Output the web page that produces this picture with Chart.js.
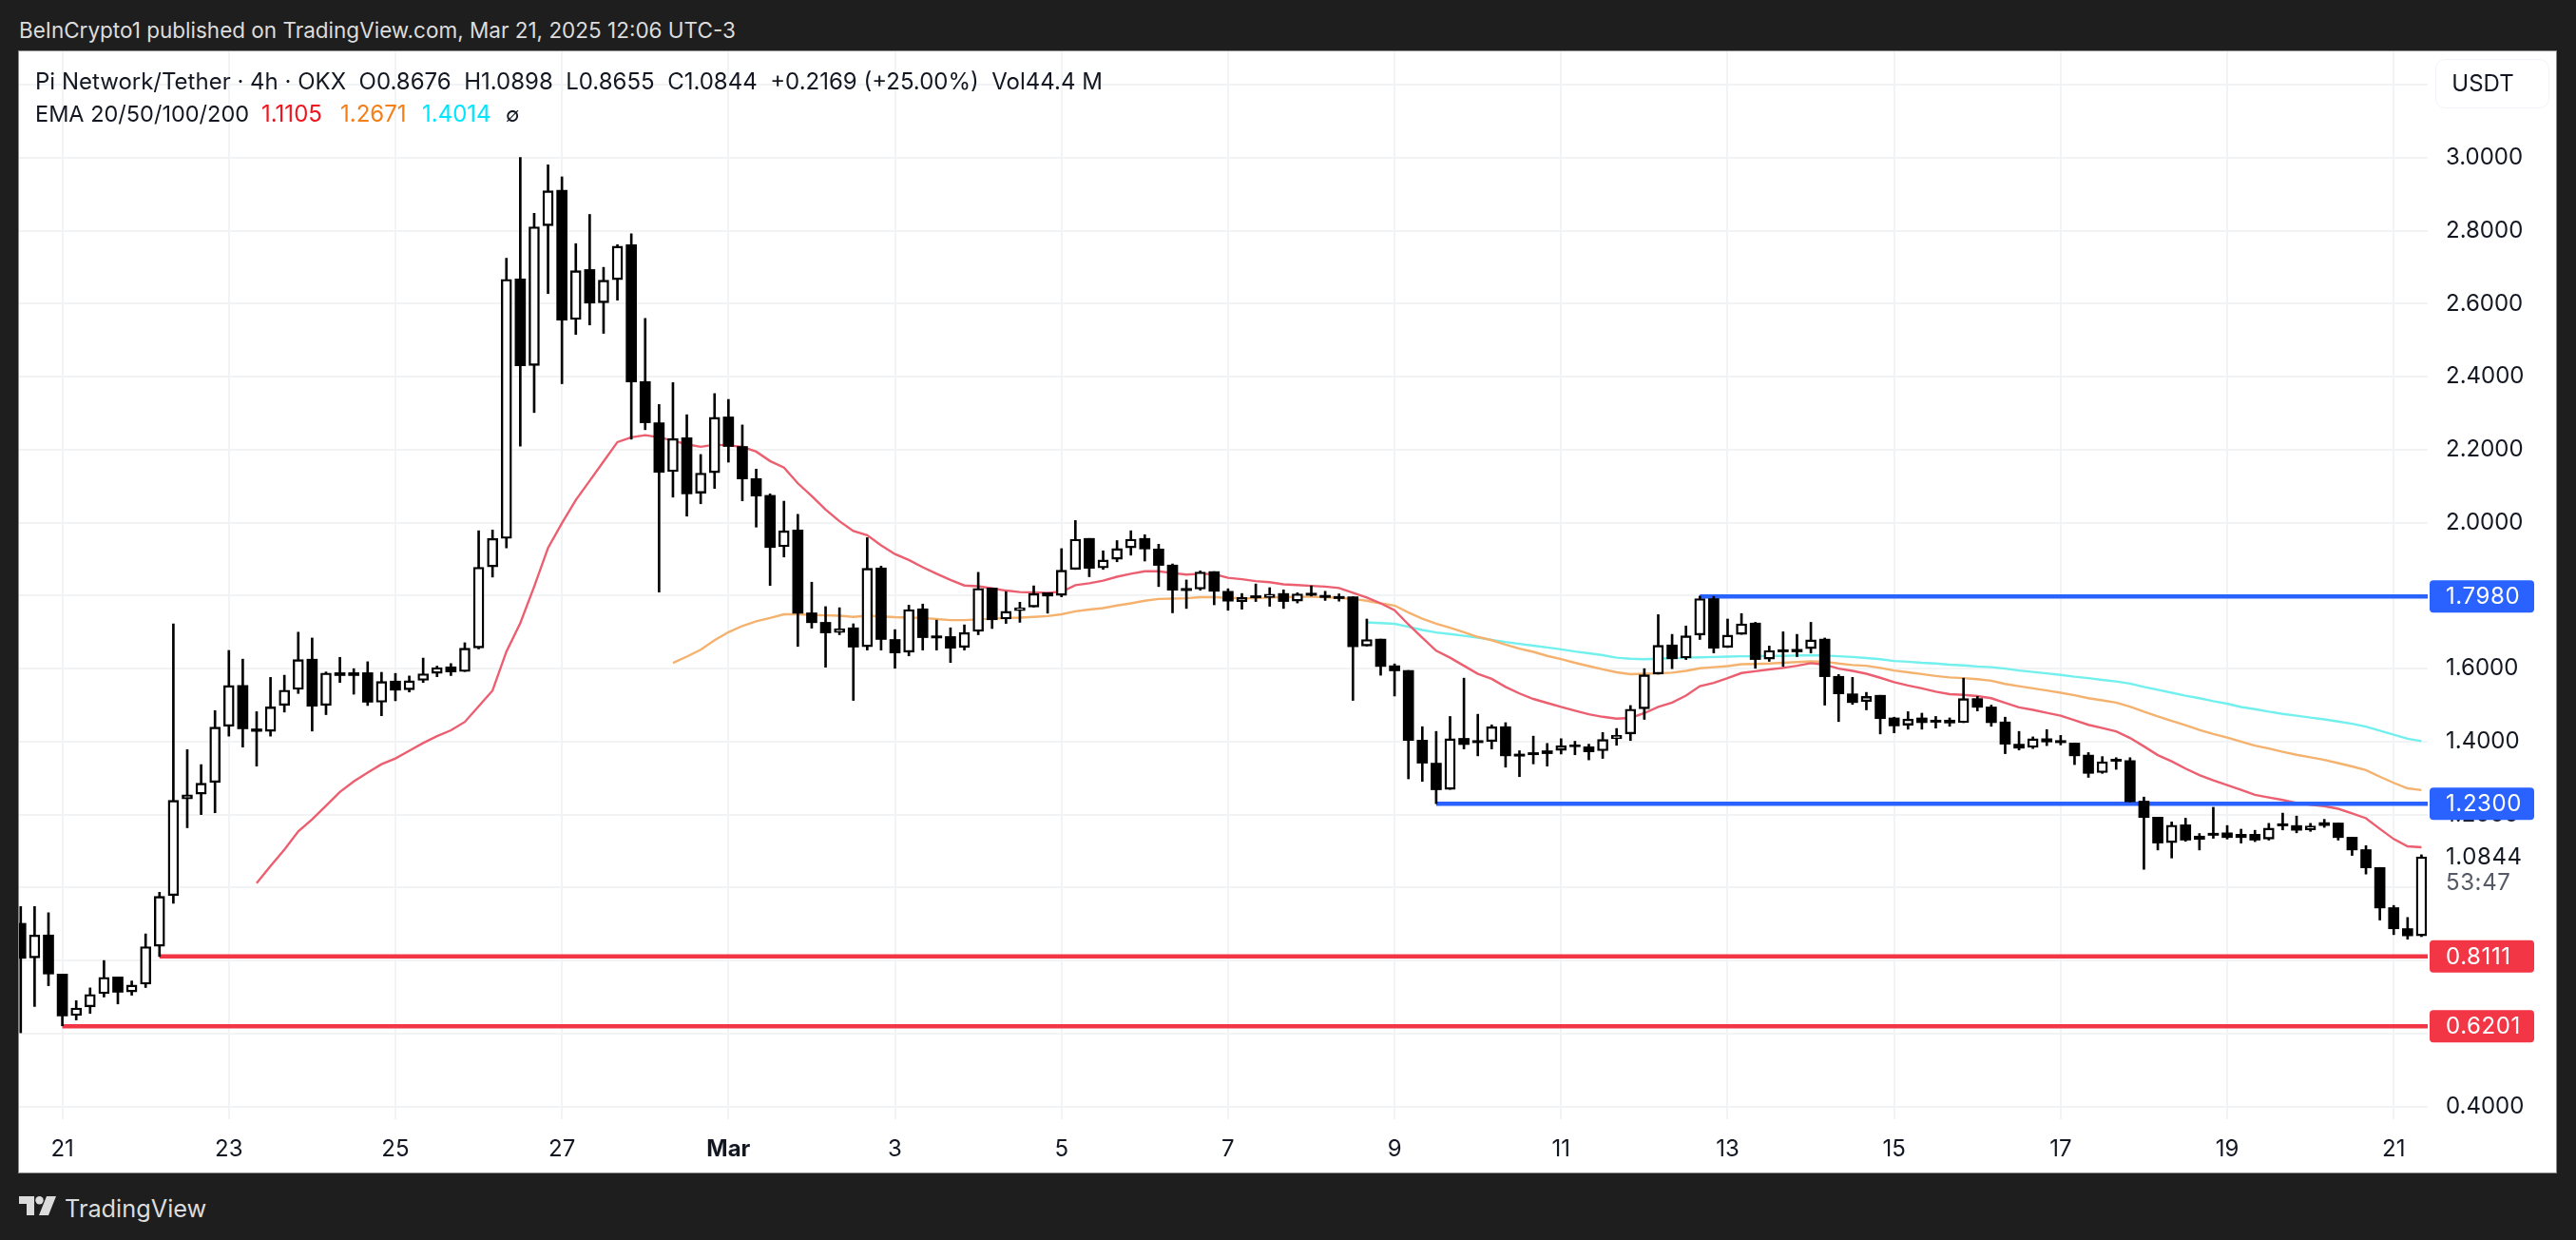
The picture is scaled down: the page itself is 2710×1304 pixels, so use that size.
<!DOCTYPE html>
<html>
<head>
<meta charset="utf-8">
<title>Pi Network/Tether</title>
<script src="https://cdn.jsdelivr.net/npm/chart.js@4"></script>
<style>
    html, body { margin: 0; padding: 0; width: 2710px; height: 1304px; background: #1e1e1e; overflow: hidden; font-family: Inter, sans-serif; }
    .abs { position: absolute; white-space: pre; line-height: 1; }
    #frame { position: absolute; left: 20px; top: 54px; width: 2669px; height: 1179px; background: #fff; box-shadow: 0 0 0 1px #8a8a8a; }
    #chart { display: block; }
    #published { left: 20px; top: 21px; font-size: 22.5px; color: #dcdcdc; }
    #title { left: 37px; top: 74px; font-size: 24px; color: #131722; }
    #emaName { left: 37px; top: 108px; font-size: 23.5px; color: #131722; }
    #usdt { left: 2562px; top: 62px; width: 120px; height: 52px; box-sizing: border-box; padding-right: 20px; text-align: center; border: 1px solid #f0f3fa; border-radius: 10px; font-size: 24px; color: #131722; line-height: 50px; }
    #brand { left: 68px; top: 1258px; font-size: 25.3px; color: #dcdcdc; }
    #logo { position: absolute; left: 20px; top: 1258px; }
</style>
</head>
<body>
<div id="frame"><canvas id="chart" width="2669" height="1179"></canvas></div>
<div class="abs" id="published">BeInCrypto1 published on TradingView.com, Mar 21, 2025 12:06 UTC-3</div>
<div class="abs" id="title">Pi Network/Tether · 4h · OKX  O0.8676  H1.0898  L0.8655  C1.0844  +0.2169 (+25.00%)  Vol44.4 M</div>
<div class="abs" id="emaName">EMA 20/50/100/200</div>
<div class="abs" style="left:275px;top:108px;font-size:24px;color:#f0141e">1.1105</div>
<div class="abs" style="left:358px;top:108px;font-size:24px;color:#f57f17">1.2671</div>
<div class="abs" style="left:444px;top:108px;font-size:24px;color:#00e5ff">1.4014</div>
<div class="abs" style="left:532px;top:110px;font-size:21px;color:#131722">∅</div>
<div class="abs" id="usdt">USDT</div>
<svg id="logo" width="39" height="20" viewBox="0 0 39 20"><path fill="#dcdcdc" d="M0 0h16v20H8V8H0z"/><path fill="#dcdcdc" d="M29 0h10l-8 20H21z"/><circle fill="#dcdcdc" cx="21.5" cy="4.2" r="4.2"/></svg>
<div class="abs" id="brand">TradingView</div>

<script>
    // 4h candles, first candle sits at index -3, index 0 is Feb 21 00:00
    const firstIndex = -3;

    const opens = [
        .902, .807, .870, .763, .649, .673, .709, .755, .714, .735,
        .839, .978, 1.243, 1.256, 1.288, 1.442, 1.554, 1.435, 1.428, 1.499,
        1.543, 1.626, 1.499, 1.589, 1.589, 1.589, 1.508, 1.566, 1.542, 1.568,
        1.587, 1.605, 1.592, 1.657, 1.879, 1.957, 2.668, 2.431, 2.814, 2.911,
        2.557, 2.694, 2.603, 2.666, 2.762, 2.387, 2.274, 2.140, 2.233, 2.081,
        2.137, 2.290, 2.209, 2.121, 2.075, 1.934, 1.980, 1.753, 1.727, 1.699,
        1.712, 1.660, 1.876, 1.680, 1.645, 1.764, 1.690, 1.688, 1.658, 1.702,
        1.821, 1.736, 1.759, 1.769, 1.808, 1.801, 1.872, 1.957, 1.876, 1.900,
        1.931, 1.957, 1.928, 1.884, 1.820, 1.818, 1.866, 1.812, 1.784, 1.800,
        1.795, 1.806, 1.785, 1.807, 1.801, 1.798, 1.797, 1.662, 1.681, 1.608,
        1.595, 1.404, 1.341, 1.269, 1.409, 1.403, 1.400, 1.441, 1.366, 1.370,
        1.375, 1.376, 1.391, 1.386, 1.375, 1.408, 1.421, 1.490, 1.585, 1.665,
        1.629, 1.692, 1.792, 1.658, 1.694, 1.725, 1.626, 1.652, 1.653, 1.655,
        1.681, 1.579, 1.531, 1.510, 1.527, 1.465, 1.445, 1.465, 1.459, 1.459,
        1.452, 1.518, 1.495, 1.454, 1.393, 1.384, 1.408, 1.403, 1.396, 1.363,
        1.315, 1.352, 1.348, 1.237, 1.193, 1.123, 1.172, 1.141, 1.149, 1.150,
        1.146, 1.146, 1.133, 1.175, 1.170, 1.158, 1.178, 1.177, 1.138, 1.104,
        1.055, .945, .8875, .8676
    ];
    const highs = [
        .948, .948, .931, .763, .690, .725, .800, .755, .744, .873,
        .987, 1.723, 1.378, 1.337, 1.485, 1.650, 1.626, 1.482, 1.576, 1.582,
        1.700, 1.684, 1.591, 1.631, 1.600, 1.619, 1.590, 1.587, 1.580, 1.629,
        1.607, 1.614, 1.671, 1.978, 1.980, 2.725, 3.001, 2.848, 2.981, 2.948,
        2.765, 2.845, 2.700, 2.762, 2.792, 2.560, 2.324, 2.384, 2.296, 2.187,
        2.354, 2.338, 2.268, 2.147, 2.079, 2.059, 2.023, 1.837, 1.770, 1.767,
        1.723, 1.959, 1.881, 1.707, 1.774, 1.777, 1.733, 1.712, 1.720, 1.864,
        1.821, 1.811, 1.782, 1.827, 1.808, 1.929, 2.006, 1.957, 1.923, 1.951,
        1.978, 1.967, 1.941, 1.887, 1.843, 1.868, 1.866, 1.819, 1.806, 1.832,
        1.822, 1.816, 1.808, 1.827, 1.812, 1.805, 1.797, 1.736, 1.681, 1.613,
        1.595, 1.441, 1.428, 1.469, 1.574, 1.475, 1.446, 1.452, 1.375, 1.415,
        1.395, 1.408, 1.401, 1.393, 1.425, 1.436, 1.499, 1.600, 1.748, 1.694,
        1.717, 1.799, 1.798, 1.736, 1.751, 1.727, 1.662, 1.701, 1.694, 1.727,
        1.684, 1.584, 1.576, 1.535, 1.527, 1.467, 1.482, 1.478, 1.469, 1.465,
        1.574, 1.524, 1.500, 1.467, 1.428, 1.413, 1.433, 1.417, 1.396, 1.370,
        1.359, 1.356, 1.356, 1.248, 1.193, 1.180, 1.190, 1.148, 1.220, 1.170,
        1.160, 1.157, 1.176, 1.204, 1.196, 1.176, 1.187, 1.177, 1.138, 1.115,
        1.055, .951, .918, 1.0898
    ];
    const lows = [
        .602, .674, .731, .621, .637, .655, .700, .681, .705, .726,
        .811, .957, 1.164, 1.200, 1.205, 1.415, 1.385, 1.333, 1.415, 1.481,
        1.532, 1.429, 1.474, 1.562, 1.530, 1.499, 1.471, 1.512, 1.536, 1.562,
        1.578, 1.581, 1.592, 1.654, 1.851, 1.931, 2.210, 2.302, 2.628, 2.381,
        2.516, 2.542, 2.519, 2.610, 2.229, 2.255, 1.810, 2.070, 2.018, 2.052,
        2.094, 2.166, 2.060, 1.988, 1.828, 1.906, 1.661, 1.711, 1.604, 1.693,
        1.513, 1.651, 1.651, 1.601, 1.635, 1.651, 1.651, 1.617, 1.651, 1.693,
        1.710, 1.724, 1.727, 1.769, 1.752, 1.797, 1.872, 1.852, 1.872, 1.893,
        1.911, 1.895, 1.825, 1.753, 1.765, 1.815, 1.775, 1.760, 1.763, 1.784,
        1.771, 1.765, 1.780, 1.799, 1.787, 1.785, 1.513, 1.662, 1.582, 1.525,
        1.298, 1.291, 1.230, 1.269, 1.380, 1.361, 1.380, 1.330, 1.304, 1.339,
        1.333, 1.366, 1.364, 1.350, 1.354, 1.390, 1.403, 1.461, 1.585, 1.600,
        1.625, 1.680, 1.643, 1.658, 1.694, 1.601, 1.620, 1.606, 1.633, 1.643,
        1.500, 1.455, 1.502, 1.487, 1.421, 1.424, 1.434, 1.434, 1.437, 1.442,
        1.452, 1.484, 1.442, 1.367, 1.377, 1.381, 1.389, 1.391, 1.337, 1.302,
        1.313, 1.324, 1.235, 1.050, 1.103, 1.081, 1.127, 1.103, 1.135, 1.133,
        1.122, 1.126, 1.130, 1.158, 1.150, 1.154, 1.165, 1.130, 1.088, 1.037,
        .911, .871, .8585, .8655
    ];
    const closes = [
        .806, .870, .763, .648, .670, .707, .754, .713, .733, .838,
        .976, 1.239, 1.254, 1.286, 1.440, 1.554, 1.435, 1.428, 1.495, 1.541,
        1.625, 1.497, 1.588, 1.581, 1.581, 1.508, 1.565, 1.541, 1.567, 1.586,
        1.603, 1.591, 1.656, 1.878, 1.957, 2.667, 2.430, 2.811, 2.910, 2.555,
        2.691, 2.602, 2.665, 2.758, 2.386, 2.274, 2.138, 2.231, 2.079, 2.136,
        2.289, 2.209, 2.120, 2.073, 1.932, 1.978, 1.752, 1.726, 1.698, 1.710,
        1.659, 1.875, 1.680, 1.643, 1.762, 1.685, 1.684, 1.656, 1.699, 1.820,
        1.734, 1.757, 1.767, 1.806, 1.799, 1.870, 1.955, 1.875, 1.898, 1.929,
        1.955, 1.928, 1.883, 1.815, 1.814, 1.865, 1.812, 1.785, 1.796, 1.794,
        1.804, 1.784, 1.805, 1.801, 1.795, 1.792, 1.660, 1.680, 1.606, 1.594,
        1.403, 1.341, 1.268, 1.408, 1.392, 1.397, 1.441, 1.361, 1.360, 1.364,
        1.367, 1.389, 1.386, 1.372, 1.406, 1.417, 1.489, 1.583, 1.664, 1.627,
        1.690, 1.792, 1.656, 1.692, 1.723, 1.625, 1.650, 1.646, 1.646, 1.679,
        1.578, 1.531, 1.507, 1.524, 1.463, 1.443, 1.462, 1.452, 1.453, 1.451,
        1.518, 1.494, 1.452, 1.393, 1.382, 1.408, 1.399, 1.397, 1.361, 1.313,
        1.345, 1.346, 1.235, 1.192, 1.122, 1.171, 1.130, 1.132, 1.143, 1.137,
        1.137, 1.130, 1.163, 1.169, 1.157, 1.169, 1.170, 1.137, 1.103, 1.054,
        .944, .887, .8676, 1.0844
    ];

    const ema20Start = 14;
    const ema20 = [
        1.012, 1.059, 1.104, 1.154, 1.187, 1.224, 1.262, 1.291, 1.315, 1.338,
        1.354, 1.375, 1.396, 1.415, 1.431, 1.454, 1.497, 1.540, 1.647, 1.725,
        1.825, 1.931, 1.999, 2.062, 2.115, 2.168, 2.221, 2.234, 2.240, 2.234,
        2.225, 2.215, 2.208, 2.214, 2.212, 2.208, 2.195, 2.169, 2.151, 2.108,
        2.073, 2.036, 2.004, 1.977, 1.966, 1.938, 1.914, 1.898, 1.878, 1.860,
        1.843, 1.828, 1.826, 1.820, 1.814, 1.810, 1.809, 1.808, 1.811, 1.829,
        1.834, 1.841, 1.852, 1.860, 1.867, 1.867, 1.862, 1.858, 1.860, 1.859,
        1.849, 1.845, 1.840, 1.837, 1.831, 1.829, 1.827, 1.825, 1.821, 1.808,
        1.795, 1.779, 1.760, 1.721, 1.685, 1.649, 1.630, 1.608, 1.586, 1.572,
        1.550, 1.532, 1.517, 1.506, 1.495, 1.485, 1.475, 1.468, 1.463, 1.465,
        1.478, 1.495, 1.507, 1.526, 1.552, 1.561, 1.574, 1.588, 1.593, 1.598,
        1.602, 1.608, 1.615, 1.611, 1.600, 1.594, 1.586, 1.575, 1.563, 1.554,
        1.546, 1.537, 1.530, 1.528, 1.525, 1.519, 1.506, 1.494, 1.487, 1.479,
        1.471, 1.459, 1.446, 1.437, 1.428, 1.410, 1.387, 1.363, 1.346, 1.326,
        1.308, 1.294, 1.281, 1.268, 1.254, 1.247, 1.240, 1.232, 1.227, 1.223,
        1.216, 1.203, 1.190, 1.161, 1.133, 1.113, 1.1105
    ];
    const ema50Start = 44;
    const ema50 = [
        1.616, 1.633, 1.652, 1.678, 1.700, 1.717, 1.730, 1.739, 1.749, 1.749,
        1.747, 1.746, 1.745, 1.742, 1.745, 1.743, 1.741, 1.740, 1.739, 1.736,
        1.733, 1.733, 1.735, 1.737, 1.739, 1.740, 1.742, 1.744, 1.749, 1.757,
        1.762, 1.766, 1.773, 1.779, 1.786, 1.791, 1.792, 1.793, 1.796, 1.796,
        1.794, 1.793, 1.793, 1.795, 1.796, 1.797, 1.797, 1.796, 1.794, 1.791,
        1.786, 1.779, 1.773, 1.754, 1.737, 1.723, 1.712, 1.700, 1.687, 1.678,
        1.666, 1.655, 1.646, 1.635, 1.626, 1.616, 1.607, 1.598, 1.590, 1.585,
        1.586, 1.587, 1.589, 1.594, 1.601, 1.604, 1.607, 1.612, 1.613, 1.614,
        1.616, 1.618, 1.620, 1.619, 1.614, 1.610, 1.608, 1.602, 1.595, 1.590,
        1.585, 1.580, 1.576, 1.574, 1.571, 1.567, 1.558, 1.552, 1.546, 1.540,
        1.534, 1.527, 1.519, 1.513, 1.507, 1.496, 1.482, 1.469, 1.457, 1.445,
        1.432, 1.421, 1.411, 1.400, 1.389, 1.381, 1.372, 1.364, 1.357, 1.350,
        1.341, 1.332, 1.322, 1.304, 1.287, 1.272, 1.2671
    ];
    const ema100Start = 94;
    const ema100 = [
        1.727, 1.725, 1.723, 1.715, 1.706, 1.699, 1.695, 1.690, 1.685, 1.679,
        1.673, 1.668, 1.663, 1.658, 1.653, 1.647, 1.642, 1.637, 1.630, 1.627,
        1.626, 1.627, 1.629, 1.630, 1.631, 1.632, 1.633, 1.634, 1.634, 1.635,
        1.635, 1.636, 1.637, 1.636, 1.634, 1.632, 1.629, 1.626, 1.621, 1.619,
        1.616, 1.614, 1.611, 1.609, 1.606, 1.604, 1.600, 1.595, 1.591, 1.587,
        1.583, 1.578, 1.574, 1.569, 1.565, 1.559, 1.550, 1.542, 1.534, 1.526,
        1.519, 1.511, 1.504, 1.495, 1.489, 1.482, 1.476, 1.471, 1.466, 1.461,
        1.455, 1.449, 1.441, 1.430, 1.419, 1.408, 1.4014
    ];

    // drawn support and resistance lines
    const levelValues = [1.798, 1.23, 0.8111, 0.6201];
    const levelStarts = [118, 99, 7, 0];
    const levelTexts = ["1.7980", "1.2300", "0.8111", "0.6201"];
    const levelColors = ["#2962ff", "#2962ff", "#f23645", "#f23645"];

    const yTicks = [3.2, 3.0, 2.8, 2.6, 2.4, 2.2, 2.0, 1.8, 1.6, 1.4, 1.2, 1.0, 0.8, 0.6, 0.4];
    const yTickLabels = ["", "3.0000", "2.8000", "2.6000", "2.4000", "2.2000", "2.0000", "1.8000", "1.6000", "1.4000", "1.2000", "", "", "", "0.4000"];
    const xTicks = [0, 12, 24, 36, 48, 60, 72, 84, 96, 108, 120, 132, 144, 156, 168];
    const xTickLabels = ["21", "23", "25", "27", "Mar", "3", "5", "7", "9", "11", "13", "15", "17", "19", "21"];

    const lastPrice = 1.0844;
    const lastPriceText = "1.0844";
    const countdownText = "53:47";

    const xMin = -3.123, xMax = 170.45;
    const yMin = 0.365, yMax = 3.292;

    const candleX = i => i + firstIndex;
    const isUp = i => closes[i] >= opens[i];

    const wickData = highs.map((h, i) => ({ x: candleX(i), y: [lows[i], h] }));
    const bodyData = opens.map((o, i) => ({ x: candleX(i), y: [Math.min(o, closes[i]), Math.max(o, closes[i])] }));

    function emaDataset(values, start, color) {
        return {
            type: "line",
            data: values.map((v, i) => ({ x: start + i, y: v })),
            borderColor: color,
            borderWidth: 2.4,
            pointRadius: 0,
            tension: 0,
            order: 5
        };
    }

    const levelDatasets = levelValues.map((v, i) => ({
        type: "line",
        data: [{ x: levelStarts[i], y: v }, { x: xMax, y: v }],
        borderColor: levelColors[i],
        borderWidth: 4.5,
        pointRadius: 0,
        order: 4
    }));

    // price tags on the axis, drawn over the tick labels
    const priceTags = {
        id: "priceTags",
        afterDraw(chart) {
            const { ctx, scales, chartArea } = chart;
            const left = chartArea.right + 2;
            ctx.save();
            ctx.font = "24px Inter";
            ctx.textBaseline = "middle";
            ctx.textAlign = "left";
            ctx.letterSpacing = "0.6px";
            levelValues.forEach((v, i) => {
                const y = scales.y.getPixelForValue(v);
                ctx.fillStyle = levelColors[i];
                ctx.beginPath();
                ctx.roundRect(left, y - 17, 110, 34, 4);
                ctx.fill();
                ctx.fillStyle = "#ffffff";
                ctx.fillText(levelTexts[i], chartArea.right + 19, y + 1);
            });
            const y = scales.y.getPixelForValue(lastPrice);
            ctx.fillStyle = "#131722";
            ctx.fillText(lastPriceText, chartArea.right + 19, y + 1);
            ctx.fillStyle = "#555a66";
            ctx.fillText(countdownText, chartArea.right + 19, y + 28);
            ctx.restore();
        }
    };

    new Chart(document.getElementById("chart"), {
        data: {
            datasets: [
                {
                    type: "bar",
                    data: bodyData,
                    barThickness: 11,
                    grouped: false,
                    backgroundColor: opens.map((o, i) => isUp(i) ? "#ffffff" : "#000000"),
                    borderColor: "#000000",
                    borderWidth: opens.map((o, i) => isUp(i) ? 2.4 : 0),
                    borderSkipped: false,
                    order: 1
                },
                {
                    type: "bar",
                    data: wickData,
                    barThickness: 2,
                    grouped: false,
                    backgroundColor: "#000000",
                    order: 2
                },
                ...levelDatasets,
                emaDataset(ema20, ema20Start, "#ec5f70"),
                emaDataset(ema50, ema50Start, "#f4b26e"),
                emaDataset(ema100, ema100Start, "#72f0ee")
            ]
        },
        options: {
            responsive: false,
            animation: false,
            devicePixelRatio: 1,
            layout: { padding: 0, autoPadding: false },
            plugins: { legend: { display: false }, tooltip: { enabled: false } },
            scales: {
                x: {
                    type: "linear",
                    bounds: "data",
                    offset: false,
                    min: xMin,
                    max: xMax,
                    afterBuildTicks: scale => { scale.ticks = xTicks.map(v => ({ value: v })); },
                    afterFit: scale => { scale.height = 56; scale.paddingLeft = 0; scale.paddingRight = 0; },
                    grid: { offset: false, color: "#f2f3f5", lineWidth: 2, drawTicks: false },
                    border: { display: false },
                    ticks: {
                        autoSkip: false,
                        maxRotation: 0,
                        padding: 17,
                        color: "#131722",
                        font: ctx => ({ family: "Inter", size: 24, weight: ctx.index === 4 ? "bold" : "normal" }),
                        callback: (value, index) => xTickLabels[index]
                    }
                },
                y: {
                    position: "right",
                    bounds: "data",
                    min: yMin,
                    max: yMax,
                    afterBuildTicks: scale => { scale.ticks = yTicks.map(v => ({ value: v })); },
                    afterFit: scale => { scale.width = 135; scale.paddingTop = 0; scale.paddingBottom = 0; },
                    grid: { color: "#f2f3f5", lineWidth: 2, drawTicks: false },
                    border: { display: false },
                    ticks: {
                        autoSkip: false,
                        padding: 19,
                        color: "#131722",
                        font: { family: "Inter", size: 24 },
                        callback: (value, index) => yTickLabels[index]
                    }
                }
            }
        },
        plugins: [priceTags]
    });
</script>
</body>
</html>
